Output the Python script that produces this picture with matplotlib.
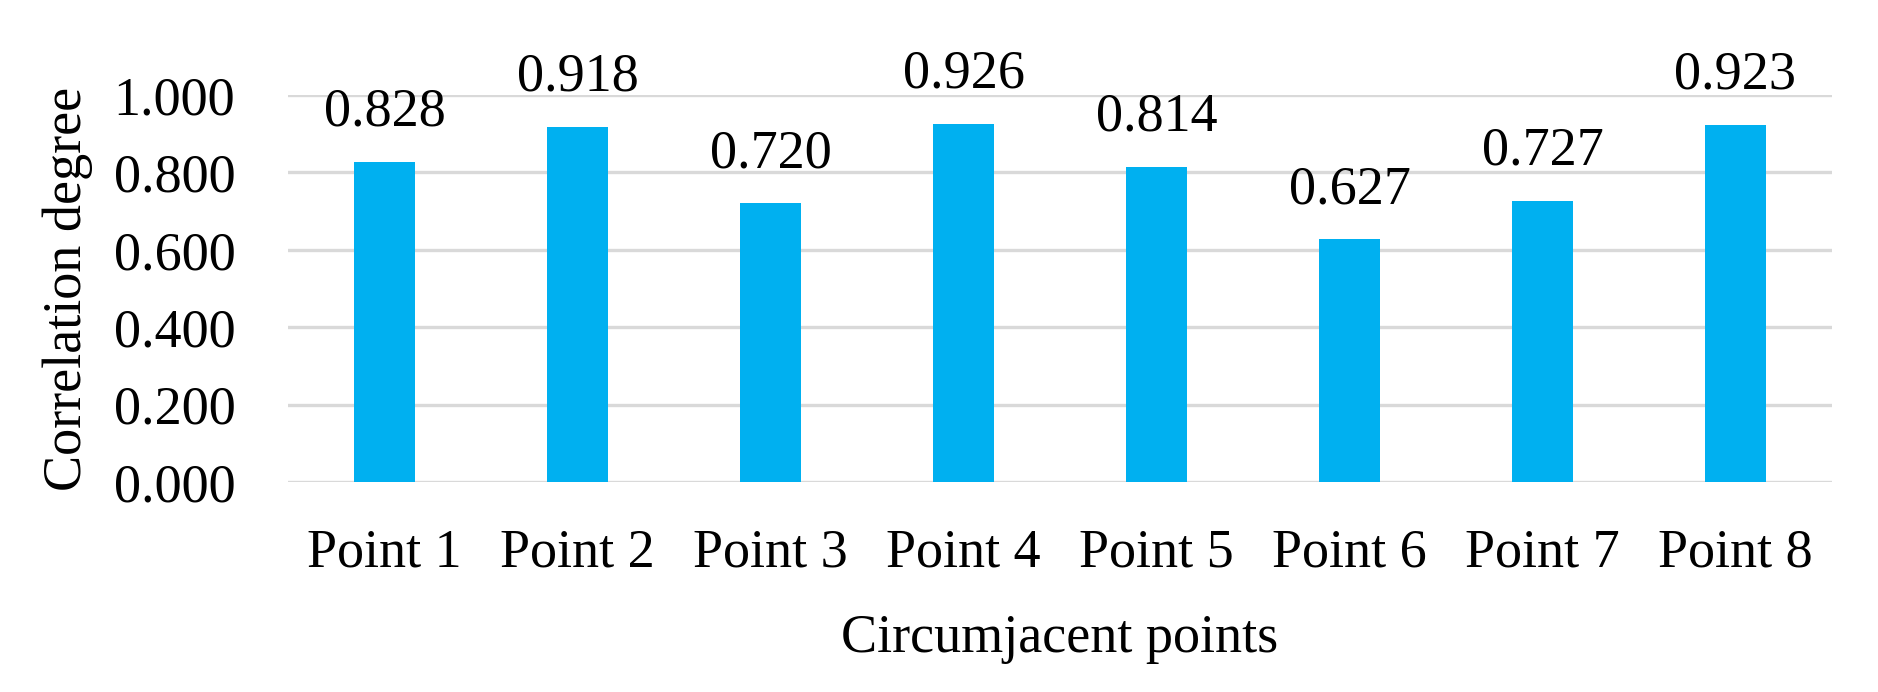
import matplotlib
matplotlib.use('Agg')
import matplotlib.pyplot as plt
import numpy as np

# data
categories = ['Point 1', 'Point 2', 'Point 3', 'Point 4',
              'Point 5', 'Point 6', 'Point 7', 'Point 8']
values = [0.828, 0.918, 0.720, 0.926, 0.814, 0.627, 0.727, 0.923]
yticks = [0.0, 0.2, 0.4, 0.6, 0.8, 1.0]

plt.rcParams['font.family'] = ['Liberation Serif', 'DejaVu Serif']
fs = 39

fig = plt.figure(figsize=(18.78, 6.92), dpi=100)
ax = fig.add_axes([0.1534, 0.3035, 0.8221, 0.5592])

x = np.arange(len(categories))
bars = ax.bar(x, values, width=0.316, color='#00B0F0', zorder=3)

for xi, v in zip(x, values):
    ax.annotate(f'{v:.3f}', (xi, v), xytext=(0, 26), textcoords='offset points',
                ha='center', va='baseline', fontsize=fs, annotation_clip=False)

ax.set_xlim(-0.5, len(categories) - 0.5)
ax.set_ylim(0, 1.0)
ax.set_yticks(yticks)
ax.set_yticklabels([f'{t:.3f}' for t in yticks], fontsize=fs)
ax.set_xticks(x)
ax.set_xticklabels(categories, fontsize=fs)
ax.tick_params(axis='y', length=0, pad=38)
ax.tick_params(axis='x', length=0, pad=33)

ax.grid(axis='y', color='#d9d9d9', linewidth=2.4, zorder=0)
ax.set_axisbelow(True)
for s in ax.spines.values():
    s.set_visible(False)

ax.set_xlabel('Circumjacent points', fontsize=fs, labelpad=25)
ax.set_ylabel('Correlation degree', fontsize=fs, labelpad=15)

fig.savefig('out.png', dpi=100)
